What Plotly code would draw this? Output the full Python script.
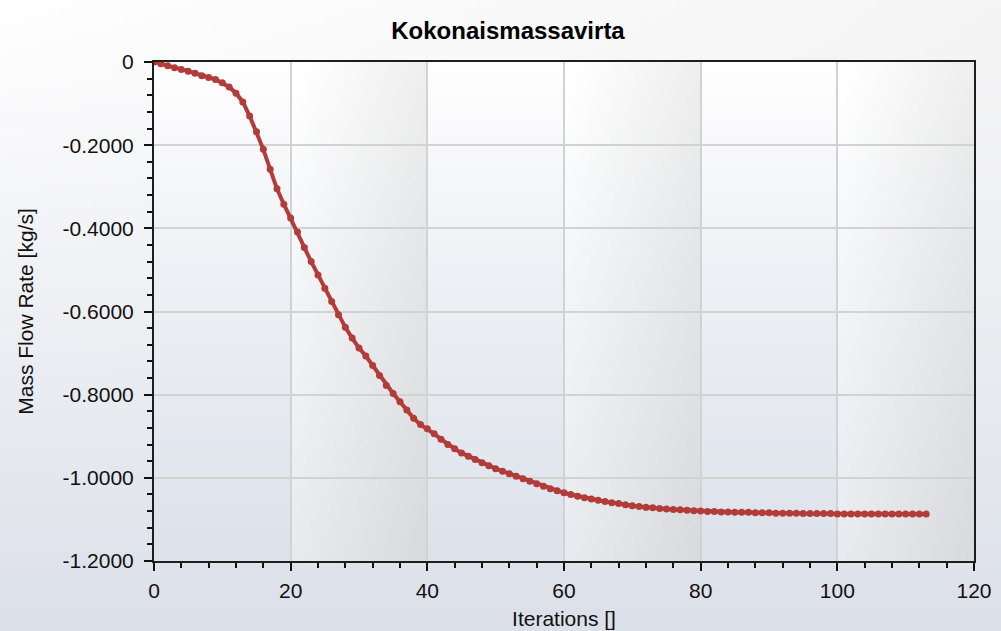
import base64
import struct
import zlib
import numpy as np
import plotly.graph_objects as go

# ---- data ----
iterations = list(range(0, 114))
mass_flow = [
    0.000, -0.004, -0.009, -0.014, -0.018, -0.022, -0.027, -0.033, -0.037, -0.042,
    -0.050, -0.060, -0.075, -0.096, -0.130, -0.168, -0.210, -0.258, -0.305, -0.342,
    -0.375, -0.409, -0.446, -0.480, -0.512, -0.544, -0.576, -0.608, -0.638, -0.664,
    -0.688, -0.707, -0.730, -0.754, -0.778, -0.797, -0.817, -0.837, -0.857, -0.872,
    -0.882, -0.894, -0.907, -0.920, -0.930, -0.940, -0.948, -0.956, -0.964, -0.971,
    -0.978, -0.984, -0.990, -0.996, -1.002, -1.008, -1.014, -1.020, -1.026, -1.031,
    -1.036, -1.040, -1.044, -1.048, -1.051, -1.054, -1.057, -1.060, -1.062, -1.065,
    -1.067, -1.069, -1.071, -1.072, -1.074, -1.075, -1.076, -1.077, -1.078, -1.079,
    -1.080, -1.081, -1.081, -1.082, -1.082, -1.083, -1.083, -1.083, -1.084, -1.084,
    -1.084, -1.085, -1.085, -1.085, -1.085, -1.086, -1.086, -1.086, -1.086, -1.086,
    -1.087, -1.087, -1.087, -1.087, -1.087, -1.087, -1.087, -1.087, -1.087, -1.087,
    -1.087, -1.087, -1.087, -1.087,
]
x_ticks = [0, 20, 40, 60, 80, 100, 120]
y_ticks = [0, -0.2, -0.4, -0.6, -0.8, -1.0, -1.2]
y_ticktext = ["0", "-0.2000", "-0.4000", "-0.6000", "-0.8000", "-1.0000", "-1.2000"]
band_starts = [0, 20, 40, 60, 80, 100]
BAND_W = 20

W, H = 1001, 631
ML, MR, MT, MB = 154, 27, 62, 70
FONT = "Liberation Sans, Arial, sans-serif"


def png_uri(arr):
    arr = np.clip(arr, 0, 255).astype(np.uint8)
    h, w, _ = arr.shape
    raw = b"".join(b"\x00" + arr[r].tobytes() for r in range(h))

    def chunk(tag, data):
        c = tag + data
        return struct.pack(">I", len(data)) + c + struct.pack(">I", zlib.crc32(c) & 0xFFFFFFFF)

    png = (b"\x89PNG\r\n\x1a\n"
           + chunk(b"IHDR", struct.pack(">IIBBBBB", w, h, 8, 2, 0, 0, 0))
           + chunk(b"IDAT", zlib.compress(raw, 9))
           + chunk(b"IEND", b""))
    return "data:image/png;base64," + base64.b64encode(png).decode()


def hexrgb(h):
    h = h.lstrip("#")
    return np.array([int(h[i:i + 2], 16) for i in (0, 2, 4)], dtype=float)


def vgrad(h, w, stops):
    t = np.linspace(0, 1, h)
    pos = [s[0] for s in stops]
    cols = np.array([hexrgb(s[1]) for s in stops])
    col = np.stack([np.interp(t, pos, cols[:, k]) for k in range(3)], axis=1)
    return np.repeat(col[:, None, :], w, axis=1)


# paper background: white at top to pale blue-grey at the bottom
paper_img = vgrad(120, 60, [(0, "#ffffff"), (0.12, "#fcfcfd"), (0.5, "#eef0f4"), (1, "#dce0e9")])
# slight grey toward top-right
xx = np.linspace(0, 1, 60)[None, :, None]
yy = np.linspace(0, 1, 120)[:, None, None]
paper_img = paper_img - 10 * xx * (1 - yy) ** 2

# plot-area bands
bh, bw = 100, 40
blue_band = vgrad(bh, bw, [(0, "#ffffff"), (0.45, "#eef0f5"), (1, "#dde2eb")])
gray_base = vgrad(bh, bw, [(0, "#fdfdfd"), (0.45, "#f1f2f4"), (1, "#e6e7eb")])
hx = np.linspace(0, 1, bw)[None, :, None]
gray_band = gray_base * (1.0 - 0.055 * hx) + 4 * (1 - hx)

pw, ph = W - ML - MR, H - MT - MB
images = [dict(source=png_uri(paper_img), xref="paper", yref="paper",
               x=-ML / pw, y=1 + MT / ph, sizex=W / pw, sizey=H / ph,
               sizing="stretch", layer="below", xanchor="left", yanchor="top")]
blue_uri, gray_uri = png_uri(blue_band), png_uri(gray_band)
for i, b in enumerate(band_starts):
    images.append(dict(source=blue_uri if i % 2 == 0 else gray_uri,
                       xref="x", yref="y", x=b, y=0, sizex=BAND_W, sizey=1.2,
                       sizing="stretch", layer="below", xanchor="left", yanchor="top"))

fig = go.Figure()
fig.add_trace(go.Scatter(
    x=iterations, y=mass_flow, mode="lines+markers",
    line=dict(color="#b23c39", width=4),
    marker=dict(color="#b23c39", size=7, symbol="circle"),
    showlegend=False, hoverinfo="x+y",
))

axis_common = dict(
    showline=True, linecolor="#1e1e1e", linewidth=2, mirror=True,
    showgrid=True, gridcolor="#d2d2d2", gridwidth=1.5, zeroline=False,
    ticks="outside", ticklen=8, tickwidth=2, tickcolor="#111111",
    tickfont=dict(family=FONT, size=21, color="#111111"),
)

fig.update_layout(
    width=W, height=H,
    margin=dict(l=ML, r=MR, t=MT, b=MB, autoexpand=False),
    paper_bgcolor="#ffffff", plot_bgcolor="rgba(0,0,0,0)",
    images=images,
    title=dict(text="<b>Kokonaismassavirta</b>", x=508 / W, xanchor="center",
               y=1 - 30.5 / H, yanchor="middle",
               font=dict(family=FONT, size=24, color="#000000")),
    xaxis=dict(range=[0, 120], tickvals=x_ticks, ticktext=[str(v) for v in x_ticks],
               minor=dict(ticks="outside", dtick=4, tick0=0, ticklen=5, tickwidth=2,
                          tickcolor="#111111", showgrid=False),
               title=dict(text="Iterations []", standoff=10,
                          font=dict(family=FONT, size=21, color="#111111")),
               ticklabelstandoff=2,
               **axis_common),
    yaxis=dict(range=[-1.2, 0], tickvals=y_ticks, ticktext=y_ticktext,
               minor=dict(ticks="outside", dtick=0.04, tick0=0, ticklen=5, tickwidth=2,
                          tickcolor="#111111", showgrid=False),
               title=dict(text="Mass Flow Rate [kg/s]", standoff=23,
                          font=dict(family=FONT, size=21, color="#111111")),
               ticklabelstandoff=6,
               **axis_common),
)

fig.write_html("out.html")
